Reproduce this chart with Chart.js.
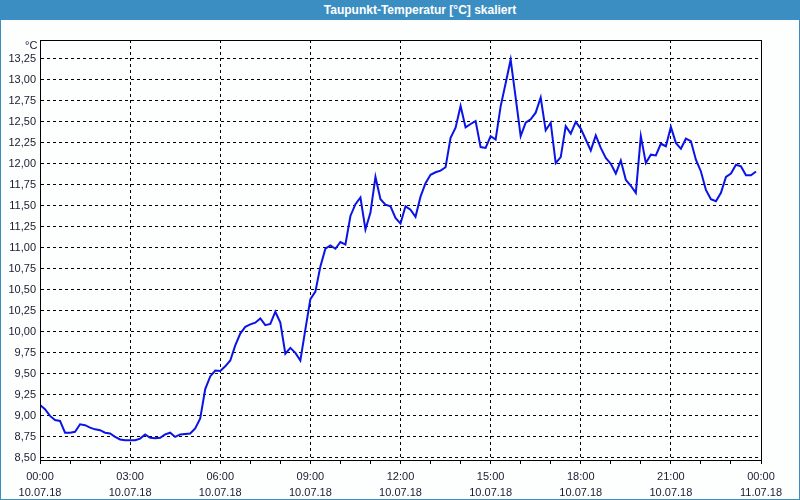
<!DOCTYPE html>
<html>
<head>
<meta charset="utf-8">
<script src="https://cdn.jsdelivr.net/npm/chart.js@4.4.1/dist/chart.umd.min.js"></script>
<style>
  html, body { margin: 0; padding: 0; background: #ffffff; }
  #rahmen {
    position: relative; width: 800px; height: 500px; box-sizing: border-box;
    border: 1px solid #3b8ec2; border-top: none; background: #fdfefe; overflow: hidden;
  }
  #titel {
    position: absolute; left: 0; top: 0; width: 100%; height: 20px; background: #3b8ec2;
    color: #ffffff; font: bold 12px "Liberation Sans", Arial, sans-serif; line-height: 20px;
    text-align: center; padding-left: 40px; box-sizing: border-box; z-index: 2;
  }
  #einheit {
    position: absolute; left: 24px; top: 39px; font: 11px "Liberation Sans", Arial, sans-serif;
    color: #1a1a2e; z-index: 2;
  }
  #leinwand { position: absolute; left: -1px; top: 0; }
</style>
</head>
<body>
<div id="rahmen">
  <div id="titel">Taupunkt-Temperatur [°C] skaliert</div>
  <span id="einheit">°C</span>
  <canvas id="leinwand" width="800" height="500"></canvas>
</div>
<script>
// Messzeitpunkte (Minuten seit 10.07.18 00:00), alle 10 Minuten
const minuten = [
  0, 10, 20, 30, 40, 50, 60, 70, 80, 90, 100, 110,
  120, 130, 140, 150, 160, 170, 180, 190, 200, 210, 220, 230,
  240, 250, 260, 270, 280, 290, 300, 310, 320, 330, 340, 350,
  360, 370, 380, 390, 400, 410, 420, 430, 440, 450, 460, 470,
  480, 490, 500, 510, 520, 530, 540, 550, 560, 570, 580, 590,
  600, 610, 620, 630, 640, 650, 660, 670, 680, 690, 700, 710,
  720, 730, 740, 750, 760, 770, 780, 790, 800, 810, 820, 830,
  840, 850, 860, 870, 880, 890, 900, 910, 920, 930, 940, 950,
  960, 970, 980, 990, 1000, 1010, 1020, 1030, 1040, 1050, 1060, 1070,
  1080, 1090, 1100, 1110, 1120, 1130, 1140, 1150, 1160, 1170, 1180, 1190,
  1200, 1210, 1220, 1230, 1240, 1250, 1260, 1270, 1280, 1290, 1300, 1310,
  1320, 1330, 1340, 1350, 1360, 1370, 1380, 1390, 1400, 1410, 1420, 1430
];

// Taupunkt in °C
const taupunkt = [
  9.13, 9.08, 9.00, 8.95, 8.94, 8.80, 8.80, 8.81, 8.90, 8.89, 8.86, 8.84,
  8.83, 8.80, 8.79, 8.75, 8.72, 8.71, 8.71, 8.71, 8.73, 8.78, 8.74, 8.735,
  8.74, 8.78, 8.80, 8.75, 8.78, 8.785, 8.79, 8.85, 8.97, 9.32, 9.47, 9.54,
  9.535, 9.59, 9.66, 9.84, 9.98, 10.06, 10.09, 10.11, 10.16, 10.08, 10.095, 10.24,
  10.11, 9.74, 9.81, 9.75, 9.66, 10.03, 10.39, 10.48, 10.78, 10.99, 11.03, 10.99,
  11.07, 11.04, 11.38, 11.52, 11.60, 11.22, 11.42, 11.845, 11.58, 11.515, 11.495, 11.357,
  11.29, 11.495, 11.455, 11.37, 11.61, 11.77, 11.87, 11.90, 11.92, 11.96, 12.31, 12.43,
  12.69, 12.435, 12.475, 12.51, 12.20, 12.19, 12.33, 12.29, 12.685, 12.96, 13.24, 12.79,
  12.33, 12.49, 12.53, 12.61, 12.79, 12.40, 12.49, 12.01, 12.08, 12.45, 12.36, 12.50,
  12.42, 12.29, 12.16, 12.34, 12.19, 12.07, 12.00, 11.885, 12.04, 11.81, 11.74, 11.655,
  12.33, 12.01, 12.11, 12.10, 12.24, 12.21, 12.44, 12.25, 12.18, 12.30, 12.27, 12.05,
  11.91, 11.69, 11.58, 11.555, 11.655, 11.845, 11.885, 11.99, 11.97, 11.865, 11.865, 11.91
];

// Achsenbeschriftungen
const stundenTicks = [0, 60, 120, 180, 240, 300, 360, 420, 480, 540, 600, 660, 720,
  780, 840, 900, 960, 1020, 1080, 1140, 1200, 1260, 1320, 1380, 1440];
const beschriftungZeit = ['00:00', '03:00', '06:00', '09:00', '12:00', '15:00', '18:00', '21:00', '00:00'];
const beschriftungDatum = ['10.07.18', '10.07.18', '10.07.18', '10.07.18', '10.07.18',
  '10.07.18', '10.07.18', '10.07.18', '11.07.18'];
const yTicks = [8.50, 8.75, 9.00, 9.25, 9.50, 9.75, 10.00, 10.25, 10.50, 10.75, 11.00,
  11.25, 11.50, 11.75, 12.00, 12.25, 12.50, 12.75, 13.00, 13.25];

const schrift = { family: '"Liberation Sans", Arial, sans-serif', size: 11 };
const schriftX = { family: '"Liberation Sans", Arial, sans-serif', size: 11, lineHeight: 1.45 };
const textFarbe = '#1a1a2e';

// Rahmen um die Zeichenfläche
const rahmenPlugin = {
  id: 'rahmenPlugin',
  afterDraw(chart) {
    const a = chart.chartArea;
    const ctx = chart.ctx;
    ctx.save();
    ctx.strokeStyle = '#000000';
    ctx.lineWidth = 1;
    ctx.strokeRect(a.left + 0.5, a.top + 0.5, a.right - a.left, a.bottom - a.top);
    ctx.restore();
  }
};

const kontext = document.getElementById('leinwand').getContext('2d');
new Chart(kontext, {
  type: 'line',
  data: {
    datasets: [{
      data: minuten.map((m, i) => ({ x: m, y: taupunkt[i] })),
      borderColor: '#0a14e6',
      borderWidth: 2,
      pointRadius: 0,
      tension: 0,
      fill: false
    }]
  },
  options: {
    responsive: false,
    animation: false,
    layout: { padding: { top: 40, right: 39, left: 0, bottom: 0 } },
    plugins: { legend: { display: false }, tooltip: { enabled: false } },
    scales: {
      x: {
        type: 'linear',
        min: 0,
        max: 1440,
        afterBuildTicks: (s) => { s.ticks = stundenTicks.map(v => ({ value: v })); },
        afterFit: (s) => { s.height = 40; },
        ticks: {
          autoSkip: false,
          maxRotation: 0,
          padding: 5,
          font: schriftX,
          color: textFarbe,
          callback: (v) => {
            if (v % 180 !== 0) return '';
            const i = v / 180;
            return [beschriftungZeit[i], beschriftungDatum[i]];
          }
        },
        grid: {
          color: (c) => (c.tick && c.tick.value % 180 === 0 ? '#000000' : 'rgba(0,0,0,0)'),
          tickColor: '#000000',
          tickLength: 4,
          lineWidth: 1
        },
        border: { display: true, color: '#000000', width: 1, dash: [3, 3] }
      },
      y: {
        min: 8.475,
        max: 13.475,
        afterBuildTicks: (s) => { s.ticks = yTicks.map(v => ({ value: v })); },
        afterFit: (s) => { s.width = 40; },
        ticks: {
          padding: 4,
          font: schrift,
          color: textFarbe,
          callback: (v) => v.toFixed(2).replace('.', ',')
        },
        grid: { color: '#000000', drawTicks: false, lineWidth: 1 },
        border: { display: true, color: '#000000', width: 1, dash: [3, 3] }
      }
    }
  },
  plugins: [rahmenPlugin]
});
</script>
</body>
</html>
